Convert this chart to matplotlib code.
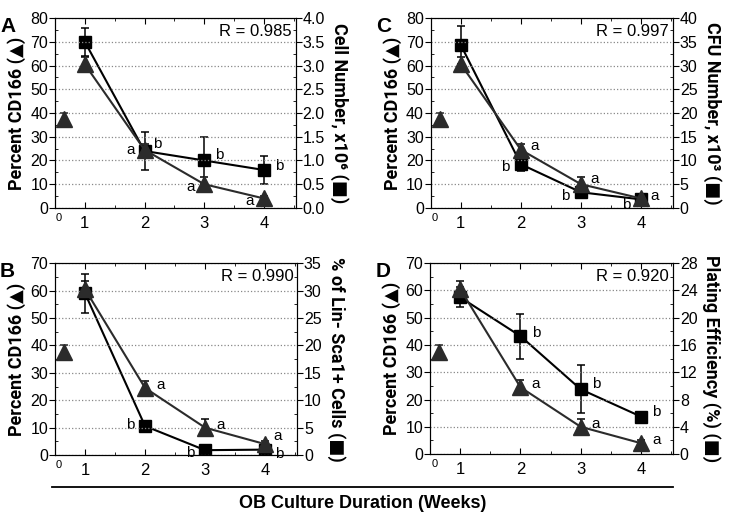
import matplotlib.pyplot as plt
import numpy as np
from matplotlib.lines import Line2D
from matplotlib.ticker import MultipleLocator, FormatStrFormatter

plt.rcParams['font.family'] = ['Liberation Sans', 'DejaVu Sans']
# Roboto has no ▲/■ so those fall back to DejaVu Sans (full size shapes)
label_family = ['Roboto', 'DejaVu Sans']

# CD166 percent (triangles), weeks 0..4
weeks_tri = [0.65, 1, 2, 3, 4]
cd166 = [37.5, 60.5, 24.5, 10, 4]
cd166_err = [2.5, 3, 2.5, 3, 1]

# square series, weeks 1..4
weeks_sq = [1, 2, 3, 4]
cell_number = [3.5, 1.2, 1.0, 0.8]          # x10^6
cell_number_err = [0.3, 0.4, 0.5, 0.3]
lin_sca1 = [29.5, 5.3, 0.9, 1.0]            # % of Lin- Sca1+ cells
lin_sca1_err = [3.5, 0.5, 0.3, 0.3]
cfu_number = [34.3, 9.2, 3.3, 1.8]          # x10^3
cfu_number_err = [4.0, 1.5, 0.8, 0.5]
plating_eff = [23, 17.3, 9.5, 5.5]          # %
plating_eff_err = [1.5, 3.3, 3.5, 0.3]

r_values = ['0.985', '0.990', '0.997', '0.920']

fig = plt.figure(figsize=(7.29, 5.16), dpi=100)

panels = [
    # letter, rect, left max, left step, right max, right step, squares, errs, right label, r, fmt
    ('A', [0.0754, 0.597, 0.330, 0.368], 80, 10, 4.0, 0.5, cell_number, cell_number_err,
     'Cell Number, x10\u2076 (■)', r_values[0], '%.1f'),
    ('B', [0.0754, 0.118, 0.332, 0.372], 70, 10, 35, 5, lin_sca1, lin_sca1_err,
     '% of Lin- Sca1+ Cells (■)', r_values[1], '%d'),
    ('C', [0.591, 0.597, 0.332, 0.368], 80, 10, 40, 5, cfu_number, cfu_number_err,
     'CFU Number, x10\u00b3 (■)', r_values[2], '%d'),
    ('D', [0.590, 0.120, 0.333, 0.370], 70, 10, 28, 4, plating_eff, plating_eff_err,
     'Plating Efficiency (%) (■)', r_values[3], '%d'),
]

# letter labels: (week, letter, dx, dy) in points, for triangles / squares
tri_labels = {
    'A': [(2, 'a', -13, 0), (3, 'a', -13, -2), (4, 'a', -13, -2)],
    'B': [(2, 'a', 8, 2), (3, 'a', 8, 2), (4, 'a', 6, 6)],
    'C': [(2, 'a', 7, 3), (3, 'a', 7, 4), (4, 'a', 7, 2)],
    'D': [(2, 'a', 8, 2), (3, 'a', 8, 2), (4, 'a', 8, 2)],
}
sq_labels = {
    'A': [(2, 'b', 6, 5), (3, 'b', 8, 4), (4, 'b', 8, 3)],
    'B': [(2, 'b', -14, 1), (3, 'b', -14, -2), (4, 'b', 7, -3)],
    'C': [(2, 'b', -14, -2), (3, 'b', -14, -3), (4, 'b', -14, -4)],
    'D': [(2, 'b', 8, 2), (3, 'b', 8, 4), (4, 'b', 8, 3)],
}

tri_color = '#2b2b2b'

for letter, rect, lmax, lstep, rmax, rstep, sq, sq_err, rlabel, r, rfmt in panels:
    ax = fig.add_axes(rect)
    ax2 = ax.twinx()
    ax.set_zorder(ax2.get_zorder() + 1)
    ax.patch.set_visible(False)

    ax.set_xlim(0.5, 4.53)
    ax.set_ylim(0, lmax)
    ax2.set_ylim(0, rmax)
    ax.yaxis.set_major_locator(MultipleLocator(lstep))
    ax.yaxis.set_minor_locator(MultipleLocator(lstep / 2))
    ax2.yaxis.set_major_locator(MultipleLocator(rstep))
    ax2.yaxis.set_minor_locator(MultipleLocator(rstep / 2))
    ax2.yaxis.set_major_formatter(FormatStrFormatter(rfmt))
    ax.set_xticks([1, 2, 3, 4])
    ax.xaxis.set_minor_locator(MultipleLocator(0.5))

    ax.grid(axis='y', color='#888888', linestyle=':', linewidth=0.9)
    ax.tick_params(axis='x', which='both', direction='in', top=True, labelsize=12, pad=6)
    ax.tick_params(axis='x', which='major', length=4)
    ax.tick_params(axis='x', which='minor', length=2.5)
    ax.tick_params(axis='y', which='major', direction='out', length=4, labelsize=11.5, pad=1)
    ax.tick_params(axis='y', which='minor', direction='in', length=2.5)
    ax2.tick_params(axis='y', which='major', direction='out', length=4, labelsize=11.5, pad=1)
    ax2.tick_params(axis='y', which='minor', direction='in', length=2.5)
    ax.set_xticklabels(['1', '2', '3', '4'])

    # square series on right axis
    ax2.errorbar(weeks_sq, sq, yerr=sq_err, color='black', marker='s', markersize=8,
                 linewidth=1.5, elinewidth=1.1, capsize=3, capthick=1.1, zorder=3)
    # triangle series on left axis (week 0 not joined)
    ax.errorbar(weeks_tri[0], cd166[0], yerr=cd166_err[0], color=tri_color, marker='^',
                markersize=11, linestyle='none', elinewidth=1.1, capsize=3, capthick=1.1)
    ax.errorbar(weeks_tri[1:], cd166[1:], yerr=cd166_err[1:], color=tri_color, marker='^',
                markersize=11, linewidth=1.5, elinewidth=1.1, capsize=3, capthick=1.1,
                ecolor='black')

    for wk, txt, dx, dy in tri_labels[letter]:
        ax.annotate(txt, (wk, cd166[weeks_tri.index(wk)]), xytext=(dx, dy),
                    textcoords='offset points', fontsize=11, va='center', ha='left')
    for wk, txt, dx, dy in sq_labels[letter]:
        ax2.annotate(txt, (wk, sq[weeks_sq.index(wk)]), xytext=(dx, dy),
                     textcoords='offset points', fontsize=11, va='center', ha='left')

    ax.text(0.985, 0.97, 'R = ' + r, transform=ax.transAxes, ha='right', va='top', fontsize=12)
    ax.text(0.57, -0.025, '0', transform=ax.get_xaxis_transform(), ha='center', va='top',
            fontsize=8)
    ax.set_ylabel('Percent CD166 (▲)', fontsize=13, fontweight='bold', labelpad=3,
                  family=label_family)
    ax2.set_ylabel(rlabel, fontsize=13, fontweight='bold', rotation=270, labelpad=17,
                   family=label_family)
    fig.text(rect[0] - 0.065, rect[1] + rect[3] + 0.003, letter, fontsize=15,
             fontweight='bold', ha='center', va='top')

fig.add_artist(Line2D([0.071, 0.923], [0.056, 0.056], color='black', linewidth=1.3))
fig.text(0.497, 0.025, 'OB Culture Duration (Weeks)', ha='center', va='center',
         fontsize=13, fontweight='bold')

fig.savefig('out.png', dpi=100)
